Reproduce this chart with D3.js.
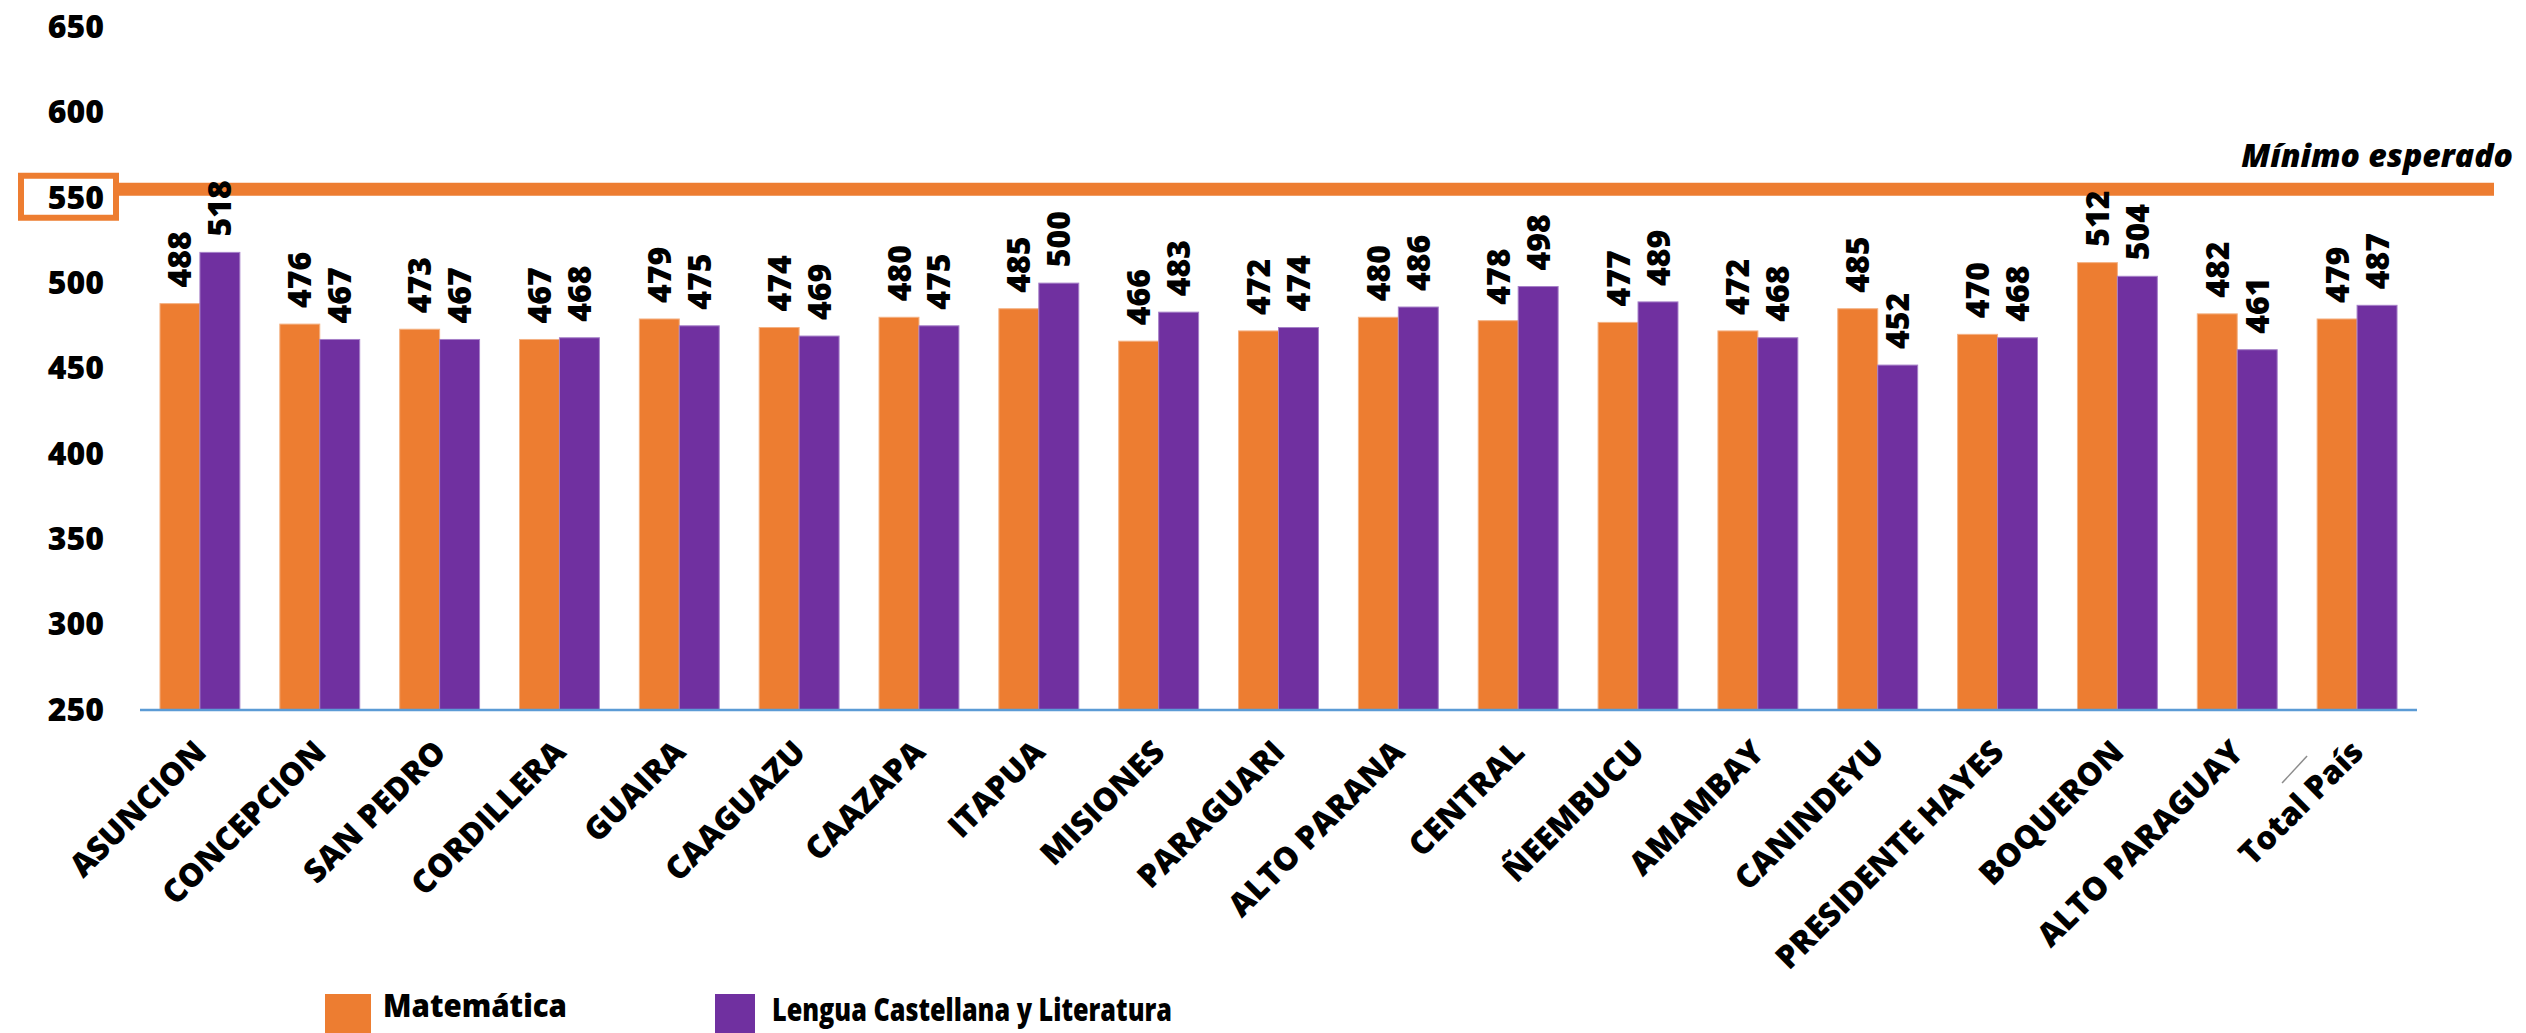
<!DOCTYPE html>
<html>
<head>
<meta charset="utf-8">
<script src="https://cdn.jsdelivr.net/npm/d3@7"></script>
<style>
  html, body { margin: 0; padding: 0; background: #fff; }
  svg { display: block; }
  text { font-family: "Open Sans", "DejaVu Sans", sans-serif; font-weight: 800; fill: #000; }
</style>
</head>
<body>
<svg id="chart" width="2526" height="1033"></svg>
<script>
const categories = ["ASUNCION","CONCEPCION","SAN PEDRO","CORDILLERA","GUAIRA","CAAGUAZU","CAAZAPA","ITAPUA","MISIONES","PARAGUARI","ALTO PARANA","CENTRAL","ÑEEMBUCU","AMAMBAY","CANINDEYU","PRESIDENTE HAYES","BOQUERON","ALTO PARAGUAY","Total País"];
const matematica = [488,476,473,467,479,474,480,485,466,472,480,478,477,472,485,470,512,482,479];
const lengua     = [518,467,467,468,475,469,475,500,483,474,486,498,489,468,452,468,504,461,487];
const seriesNames = ["Matemática","Lengua Castellana y Literatura"];
const yTicks = [250,300,350,400,450,500,550,600,650];
const minimoEsperado = 555;
const minimoLabel = "Mínimo esperado";

const colors = ["#ED7D31", "#7030A0"];
const strokes = ["#F4B183", "#A680C8"];

const svg = d3.select("#chart");

const x = d3.scaleBand().domain(categories).range([140, 2417]).paddingInner(1/3).paddingOuter(1/6);
const xs = d3.scaleBand().domain([0,1]).range([0, x.bandwidth()]);
const y = d3.scaleLinear().domain([250, 650]).range([710, 27]);

// y tick labels
const yAxis = d3.axisLeft(y).tickValues(yTicks).tickSize(0).tickPadding(0);
const gy = svg.append("g").attr("transform", "translate(104,0)").call(yAxis);
gy.select(".domain").remove();
gy.selectAll("text").attr("font-size", 32).attr("fill", "#000")
  .style("font-family", '"Open Sans", sans-serif').style("font-weight", 800);

// minimum line (behind bars & labels)
svg.append("rect")
  .attr("x", 21).attr("y", y(550) - 22).attr("width", 95).attr("height", 42)
  .attr("fill", "none").attr("stroke", "#ED7D31").attr("stroke-width", 6);
svg.append("line")
  .attr("x1", 116).attr("x2", 2494)
  .attr("y1", y(minimoEsperado)).attr("y2", y(minimoEsperado))
  .attr("stroke", "#ED7D31").attr("stroke-width", 13);
svg.append("text")
  .attr("x", 2513).attr("y", 167)
  .attr("text-anchor", "end")
  .attr("font-size", 32)
  .attr("font-style", "italic")
  .text(minimoLabel);

// bars
const data = categories.map((c, i) => ({c, v: [matematica[i], lengua[i]]}));
const groups = svg.append("g").selectAll("g").data(data).join("g")
  .attr("transform", d => `translate(${x(d.c)},0)`);

groups.selectAll("rect").data(d => d.v.map((v, k) => ({v, k}))).join("rect")
  .attr("x", d => xs(d.k))
  .attr("y", d => y(d.v))
  .attr("width", xs.bandwidth())
  .attr("height", d => y(250) - y(d.v))
  .attr("fill", d => colors[d.k])
  .attr("stroke", d => strokes[d.k])
  .attr("stroke-width", 1);

groups.selectAll("text.val").data(d => d.v.map((v, k) => ({v, k}))).join("text")
  .attr("class", "val")
  .attr("transform", d => `translate(${xs(d.k) + xs.bandwidth()/2},${y(d.v) - 16}) rotate(-90)`)
  .attr("dy", "0.36em")
  .attr("text-anchor", "start")
  .attr("font-size", 32)
  .text(d => d.v);

// baseline
svg.append("line")
  .attr("x1", 140).attr("x2", 2417)
  .attr("y1", y(250)).attr("y2", y(250))
  .attr("stroke", "#5B9BD5").attr("stroke-width", 2.5);

// x labels
svg.append("g").selectAll("text").data(categories).join("text")
  .attr("transform", d => `translate(${x(d) + x.bandwidth()/2},746) rotate(-45)`)
  .attr("dy", "0.36em")
  .attr("text-anchor", "end")
  .attr("font-size", 32)
  .text(d => d);

// leader line near Total País
const tp = x("Total País") + x.bandwidth()/2;
svg.append("line")
  .attr("x1", tp - 75).attr("y1", 783).attr("x2", tp - 50).attr("y2", 756)
  .attr("stroke", "#8c8c8c").attr("stroke-width", 1.5);

// legend
const legend = [
  {x: 325, w: 46, tx: 383, ty: 1017, tl: 184},
  {x: 715, w: 40, tx: 772, ty: 1021, tl: 400}
];
legend.forEach((l, i) => {
  svg.append("rect").attr("x", l.x).attr("y", 994).attr("width", l.w).attr("height", 40).attr("fill", colors[i]);
  svg.append("text").attr("x", l.tx).attr("y", l.ty).attr("font-size", 32)
    .attr("textLength", l.tl).attr("lengthAdjust", "spacingAndGlyphs")
    .text(seriesNames[i]);
});
</script>
</body>
</html>
